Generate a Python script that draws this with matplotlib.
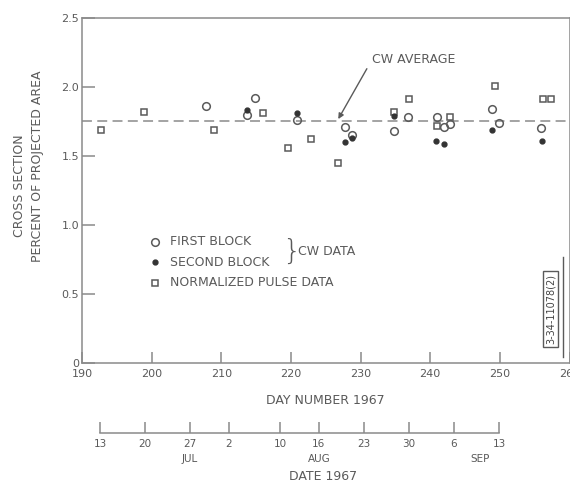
# cross section vs day number, summer 1967
import matplotlib.pyplot as plt
from matplotlib.transforms import blended_transform_factory

# CW data, first block (open circles)
first_day = [207.8, 213.7, 214.8, 220.8, 227.8, 228.7, 234.8, 236.8, 241.0, 242.0, 242.9, 248.9, 249.9, 255.9]
first_val = [1.86, 1.80, 1.92, 1.76, 1.71, 1.65, 1.68, 1.78, 1.78, 1.71, 1.73, 1.84, 1.74, 1.70]

# CW data, second block (filled dots)
second_day = [213.7, 220.8, 227.8, 228.7, 234.8, 240.8, 242.0, 248.9, 256.0]
second_val = [1.83, 1.81, 1.60, 1.63, 1.79, 1.61, 1.59, 1.69, 1.61]

# normalized pulse data (open squares)
pulse_day = [192.7, 198.9, 209.0, 216.0, 219.6, 222.9, 226.7, 234.8, 237.0, 241.0, 242.9, 249.3, 256.2, 257.4]
pulse_val = [1.69, 1.82, 1.69, 1.81, 1.56, 1.62, 1.45, 1.82, 1.91, 1.72, 1.78, 2.01, 1.91, 1.91]

cw_average = 1.75

day_ticks = [190, 200, 210, 220, 230, 240, 250, 260]
val_ticks = [0, 0.5, 1.0, 1.5, 2.0, 2.5]
val_labels = ['0', '0.5', '1.0', '1.5', '2.0', '2.5']

# calendar scale underneath
date_days = [194, 201, 208, 214, 222, 228, 235, 242, 249, 256]
date_labels = ['13', '20', '27', '2', '10', '16', '23', '30', '6', '13']
month_names = ['JUL', 'AUG', 'SEP']
month_pos = [208, 228, 253]

ink = '#5a5a5a'
line_c = '#8a8a8a'
fs = 9
plt.rcParams['font.family'] = 'DejaVu Sans'

fig = plt.figure(figsize=(5.7, 4.91), dpi=100)
ax = fig.add_axes([82/570, 128/491, 487.5/570, 345/491])

ax.axhline(cw_average, color=line_c, lw=1.1, ls=(0, (6.5, 3.5)), zorder=1)
ax.plot(pulse_day, pulse_val, 's', ms=5, mfc='white', mec=ink, mew=1.1, zorder=2)
ax.plot(first_day, first_val, 'o', ms=5.5, mfc='none', mec=ink, mew=1.1, zorder=3)
ax.plot(second_day, second_val, 'o', ms=3.5, mfc='#333333', mec='#333333', zorder=4)

ax.set_xlim(190, 260)
ax.set_ylim(0, 2.5)
ax.set_xticks(day_ticks)
ax.set_yticks(val_ticks, val_labels)
ax.tick_params(axis='x', direction='in', length=8, width=1.1, color=line_c,
               labelsize=8, labelcolor=ink, pad=4)
ax.tick_params(axis='y', direction='in', length=9, width=1.1, color=line_c,
               labelsize=8, labelcolor=ink, pad=2)
for s in ax.spines.values():
    s.set_color(line_c)
    s.set_linewidth(1.1)

ax.set_xlabel('DAY NUMBER 1967', fontsize=fs, color=ink, labelpad=11)
fig.text(20/570, 1 - 186/491, 'CROSS SECTION', rotation=90, ha='center', va='center',
         fontsize=fs, color=ink)
fig.text(38/570, 1 - 166/491, 'PERCENT OF PROJECTED AREA', rotation=90, ha='center',
         va='center', fontsize=fs, color=ink)

# average line callout
ax.annotate('', xy=(226.6, cw_average), xytext=(231.1, 2.15),
            arrowprops=dict(arrowstyle='-|>', color=ink, lw=1.0, mutation_scale=8))
ax.text(231.7, 2.2, 'CW AVERAGE', fontsize=fs, color=ink, ha='left', va='center')

# key
ax.plot([200.5], [0.88], 'o', ms=5.5, mfc='none', mec=ink, mew=1.1)
ax.plot([200.5], [0.73], 'o', ms=3.5, mfc='#333333', mec='#333333')
ax.plot([200.5], [0.58], 's', ms=5, mfc='white', mec=ink, mew=1.1)
ax.text(202.6, 0.88, 'FIRST BLOCK', fontsize=fs, color=ink, va='center')
ax.text(202.6, 0.73, 'SECOND BLOCK', fontsize=fs, color=ink, va='center')
ax.text(202.6, 0.58, 'NORMALIZED PULSE DATA', fontsize=fs, color=ink, va='center')
ax.text(218.7, 0.805, '}', fontsize=21, color=ink, va='center', ha='left',
        fontweight='light')
ax.text(221.0, 0.805, 'CW DATA', fontsize=fs, color=ink, va='center')

# drawing number tag
fig.text(550.5/570, 1 - 309/491, '3-34-11078(2)', rotation=90, ha='center', va='center',
         fontsize=7, color='#444444',
         bbox=dict(boxstyle='square,pad=0.3', fc='white', ec=ink, lw=1.0))
fig.add_artist(plt.Line2D([562.5/570, 562.5/570], [1 - 257/491, 1 - 357/491],
                          color=ink, lw=1.0))

# date axis
dax = fig.add_axes([100/570, 58/491, 399/570, 0.001])
dax.set_xlim(194, 256)
dax.set_ylim(0, 1)
for side in ['top', 'left', 'right']:
    dax.spines[side].set_visible(False)
dax.spines['bottom'].set_color(line_c)
dax.spines['bottom'].set_linewidth(1.1)
dax.set_yticks([])
dax.set_xticks(date_days, date_labels)
dax.tick_params(axis='x', direction='in', length=8, width=1.1, color=line_c,
                labelsize=7.5, labelcolor=ink, pad=4)
month_tr = blended_transform_factory(dax.transData, fig.transFigure)
for m, p in zip(month_names, month_pos):
    dax.text(p, 1 - 459/491, m, fontsize=7.5, color=ink, ha='center', va='center',
             transform=month_tr)
fig.text(323/570, 1 - 477/491, 'DATE 1967', fontsize=fs, color=ink,
         ha='center', va='center')

fig.savefig('out.png', dpi=100)
